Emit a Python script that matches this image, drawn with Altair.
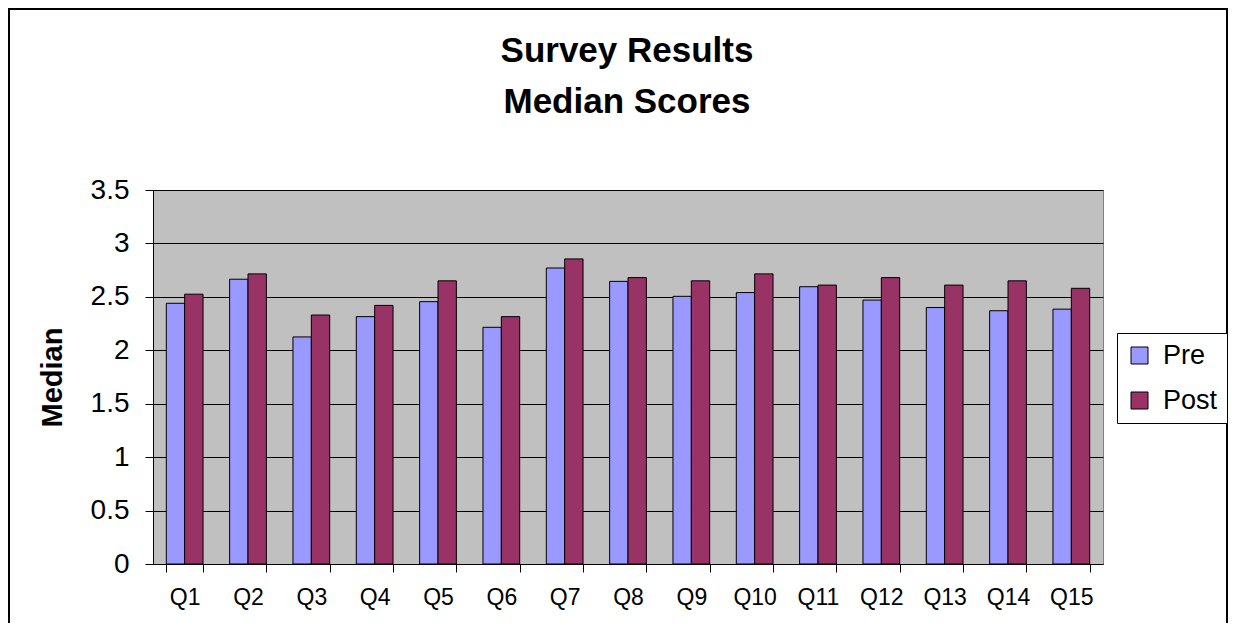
import altair as alt
import pandas as pd

questions = ["Q1", "Q2", "Q3", "Q4", "Q5", "Q6", "Q7", "Q8", "Q9", "Q10",
             "Q11", "Q12", "Q13", "Q14", "Q15"]
pre = [2.44, 2.665, 2.125, 2.315, 2.455, 2.215, 2.77, 2.645, 2.505, 2.54,
       2.595, 2.47, 2.40, 2.37, 2.385]
post = [2.525, 2.715, 2.33, 2.42, 2.65, 2.315, 2.855, 2.68, 2.65, 2.715,
        2.61, 2.68, 2.61, 2.65, 2.58]
series = ["Pre", "Post"]
colors = ["#9999FF", "#993366"]
y_ticks = [0, 0.5, 1, 1.5, 2, 2.5, 3, 3.5]
title_lines = ["Survey Results", "Median Scores"]

rows = []
for q, a, b in zip(questions, pre, post):
    rows.append({"Question": q, "Series": "Pre", "Median": a})
    rows.append({"Question": q, "Series": "Post", "Median": b})
df = pd.DataFrame(rows)

W, H = 950, 374
PAD = {"left": 145, "top": 182, "right": 125, "bottom": 59}
FONT = "Liberation Sans"

bars = alt.Chart(df).mark_bar(stroke="black", strokeWidth=1, opacity=1).encode(
    x=alt.X("Question:N", sort=questions,
            scale=alt.Scale(paddingInner=0.42, paddingOuter=0.21),
            axis=alt.Axis(title=None, labelAngle=0, labelFontSize=23,
                          labelPadding=14, tickSize=8, tickBand="extent",
                          domainColor="black", tickColor="black",
                          labelColor="black", grid=False)),
    xOffset=alt.XOffset("Series:N", sort=series,
                        scale=alt.Scale(paddingInner=0, paddingOuter=0)),
    y=alt.Y("Median:Q",
            scale=alt.Scale(domain=[0, 3.5], nice=False),
            axis=alt.Axis(values=y_ticks, format="~g", title="Median",
                          titleFontSize=29, titleFontWeight="bold",
                          titleColor="black", titleAngle=-90,
                          titleX=-101, titleY=187, titleAlign="center",
                          titleBaseline="middle",
                          labelFontSize=28, labelPadding=16, tickSize=8,
                          labelColor="black", domainColor="black",
                          tickColor="black", grid=True, gridColor="black",
                          gridWidth=1)),
    color=alt.Color("Series:N", sort=series,
                    scale=alt.Scale(domain=series, range=colors),
                    legend=alt.Legend(title=None, orient="none",
                                      legendX=964, legendY=143,
                                      padding=9, strokeColor="black",
                                      fillColor="white", labelFontSize=27,
                                      labelColor="black",
                                      symbolType="square", symbolSize=289,
                                      symbolStrokeColor="black",
                                      symbolStrokeWidth=1,
                                      symbolOpacity=1,
                                      rowPadding=17, labelOffset=10,
                                      cornerRadius=0)),
)

frame = alt.Chart(pd.DataFrame({"k": [0]})).mark_rect(
    fillOpacity=0, stroke="black", strokeWidth=2
).encode(
    x=alt.value(-144), x2=alt.value(1074),
    y=alt.value(-181), y2=alt.value(H + 80),
)

title1 = alt.Chart(pd.DataFrame({"t": [title_lines[0]]})).mark_text(
    fontSize=35, fontWeight="bold", color="black", font=FONT,
    align="center", baseline="alphabetic"
).encode(text="t:N", x=alt.value(474), y=alt.value(-128))

title2 = alt.Chart(pd.DataFrame({"t": [title_lines[1]]})).mark_text(
    fontSize=35, fontWeight="bold", color="black", font=FONT,
    align="center", baseline="alphabetic"
).encode(text="t:N", x=alt.value(474), y=alt.value(-77))

chart = alt.layer(bars, frame, title1, title2).properties(
    width=W, height=H,
    autosize=alt.AutoSizeParams(type="none"),
    padding=PAD,
).configure(
    font=FONT,
    background="white",
).configure_view(
    fill="#C0C0C0", stroke="#808080", strokeWidth=1,
).configure_axis(
    labelFont=FONT, titleFont=FONT,
)

chart.save("out.html", embed_options={"renderer": "svg", "actions": False})
